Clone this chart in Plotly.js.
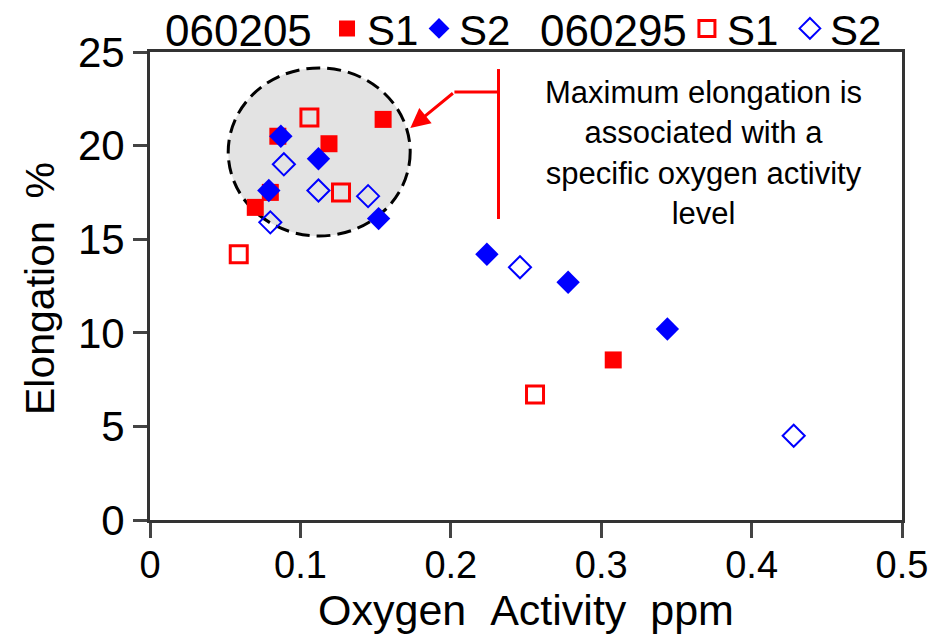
<!DOCTYPE html>
<html>
<head>
<meta charset="utf-8">
<script src="https://cdn.plot.ly/plotly-3.0.1.min.js"></script>
<style>html,body{margin:0;padding:0;background:#fff;}#chart{width:948px;height:637px;}</style>
</head>
<body>
<div id="chart"></div>
<script>
// 060205 S1 (filled squares)
const s1aX = [0.155, 0.119, 0.085, 0.080, 0.070, 0.308];
const s1aY = [21.4, 20.1, 20.5, 17.5, 16.7, 8.55];
// 060205 S2 (filled diamonds)
const s2aX = [0.087, 0.112, 0.079, 0.152, 0.224, 0.278, 0.344];
const s2aY = [20.5, 19.3, 17.6, 16.1, 14.2, 12.7, 10.2];
// 060295 S1 (open squares)
const s1bX = [0.106, 0.127, 0.059, 0.256];
const s1bY = [21.5, 17.5, 14.2, 6.7];
// 060295 S2 (open diamonds)
const s2bX = [0.089, 0.112, 0.145, 0.080, 0.246, 0.428];
const s2bY = [19.0, 17.6, 17.3, 15.9, 13.5, 4.5];

const seriesNames = ['S1', 'S2'];
const groupNames = ['060205', '060295'];
const xTitle = 'Oxygen\u00a0\u00a0Activity\u00a0\u00a0ppm';
const yTitle = 'Elongation\u00a0\u00a0%';
const noteText = 'Maximum elongation is<br>associated with a<br>specific oxygen activity<br>level';

const FONT = '"Liberation Sans", Arial, Helvetica, sans-serif';
const RED = '#ff0000', BLUE = '#0000ff';

const traces = [
  {x: s1aX, y: s1aY, name: seriesNames[0], legend: 'legend', type: 'scatter', mode: 'markers',
   marker: {symbol: 'square', size: 17, color: RED}},
  {x: s2aX, y: s2aY, name: seriesNames[1], legend: 'legend', type: 'scatter', mode: 'markers',
   marker: {symbol: 'diamond', size: 18, color: BLUE}},
  {x: s1bX, y: s1bY, name: seriesNames[0], legend: 'legend2', type: 'scatter', mode: 'markers',
   marker: {symbol: 'square-open', size: 17, color: RED, line: {width: 3, color: RED}}},
  {x: s2bX, y: s2bY, name: seriesNames[1], legend: 'legend2', type: 'scatter', mode: 'markers',
   marker: {symbol: 'diamond-open', size: 17, color: BLUE, line: {width: 2, color: BLUE}}}
];

const legendCommon = {
  orientation: 'h', xanchor: 'left', yanchor: 'middle', y: 1.05,
  bgcolor: 'rgba(0,0,0,0)', borderwidth: 0,
  font: {family: FONT, size: 42, color: '#000'},
  entrywidthmode: 'pixels', itemclick: false, itemdoubleclick: false
};

const groupFont = {family: FONT, size: 44, color: '#000'};

const layout = {
  width: 948, height: 637,
  margin: {l: 150, r: 46, t: 52, b: 117, autoexpand: false},
  paper_bgcolor: '#fff', plot_bgcolor: '#fff',
  font: {family: FONT, color: '#000'},
  showlegend: true,
  legend: Object.assign({}, legendCommon, {x: 0.2354, entrywidth: 47}),
  legend2: Object.assign({}, legendCommon, {x: 0.714, entrywidth: 58}),
  xaxis: {
    range: [0, 0.5], dtick: 0.1, tick0: 0, showgrid: false, zeroline: false,
    showline: true, mirror: true, linecolor: '#333', linewidth: 3,
    ticks: 'outside', ticklen: 15, tickwidth: 3, tickcolor: '#444',
    ticklabelstandoff: -6,
    tickfont: {family: FONT, size: 38, color: '#000'},
    title: {text: xTitle, font: {family: FONT, size: 43, color: '#000'}, standoff: 0}
  },
  yaxis: {
    range: [0, 25], dtick: 5, tick0: 0, showgrid: false, zeroline: false,
    showline: true, mirror: true, linecolor: '#333', linewidth: 3,
    ticks: 'outside', ticklen: 14, tickwidth: 3, tickcolor: '#444',
    tickfont: {family: FONT, size: 42, color: '#000'}
  },
  shapes: [
    {type: 'circle', xref: 'x', yref: 'y', x0: 0.052, x1: 0.173, y0: 15.17, y1: 24.15,
     layer: 'below', fillcolor: '#e3e3e3', line: {color: '#000', width: 3, dash: '14px,7px'}},
    {type: 'line', xref: 'x', yref: 'y', x0: 0.2317, x1: 0.2317, y0: 16.08, y1: 24.09,
     line: {color: RED, width: 3}},
    {type: 'line', xref: 'x', yref: 'y', x0: 0.2024, x1: 0.2317, y0: 22.86, y1: 22.86,
     line: {color: RED, width: 3}}
  ],
  annotations: [
    {xref: 'paper', yref: 'paper', x: -0.1463, y: 0.4957, xanchor: 'center', yanchor: 'middle',
     textangle: -90, text: yTitle, showarrow: false, font: {family: FONT, size: 41, color: '#000'}},
    {xref: 'paper', yref: 'paper', x: 0.017, y: 1.045, xanchor: 'left', yanchor: 'middle',
     text: groupNames[0], showarrow: false, font: groupFont},
    {xref: 'paper', yref: 'paper', x: 0.516, y: 1.045, xanchor: 'left', yanchor: 'middle',
     text: groupNames[1], showarrow: false, font: groupFont},
    {xref: 'x', yref: 'y', x: 0.1731, y: 20.94, ax: 0.2024, ay: 22.86, axref: 'x', ayref: 'y',
     text: '', showarrow: true, arrowhead: 2, arrowsize: 1.3, arrowwidth: 3, arrowcolor: RED, standoff: 0},
    {xref: 'x', yref: 'y', x: 0.368, y: 19.6, xanchor: 'center', yanchor: 'middle',
     text: noteText, showarrow: false, align: 'center',
     font: {family: FONT, size: 31, color: '#000'}}
  ]
};

Plotly.newPlot('chart', traces, layout, {displayModeBar: false, staticPlot: true});
</script>
</body>
</html>
